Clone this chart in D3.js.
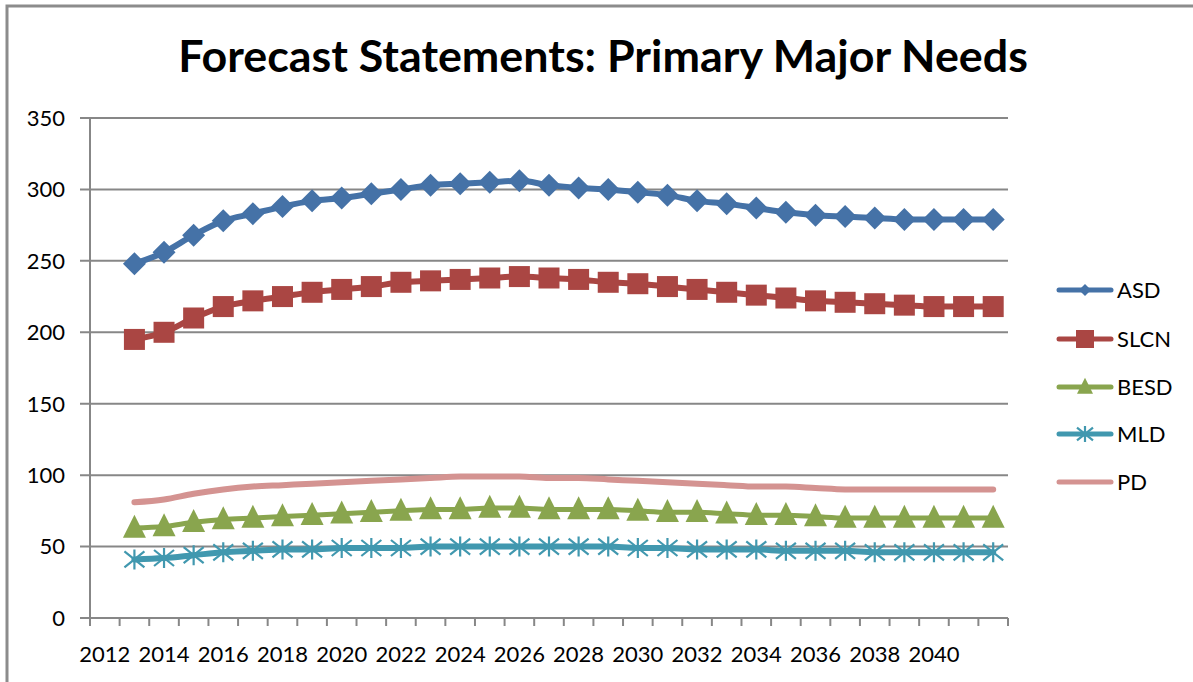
<!DOCTYPE html>
<html>
<head>
<meta charset="utf-8">
<script src="https://cdn.jsdelivr.net/npm/d3@7"></script>
<style>
  body { margin: 0; background: #fff; }
  svg { display: block; font-family: Lato, "Open Sans", sans-serif; }
</style>
</head>
<body>
<svg width="1193" height="682"></svg>
<script>
// Data
const years = d3.range(2012, 2043);          // category axis 2012..2042
const dataYears = d3.range(2013, 2043);      // series start in 2013
const yTicks = [0, 50, 100, 150, 200, 250, 300, 350];
const xLabels = d3.range(2012, 2041, 2);

const asd  = [248, 256, 268, 278, 283, 288, 292, 294, 297, 300, 303, 304, 305, 306, 303, 301, 300, 298, 296, 292, 290, 287, 284, 282, 281, 280, 279, 279, 279, 279];
const slcn = [195, 200, 210, 218, 222, 225, 228, 230, 232, 235, 236, 237, 238, 239, 238, 237, 235, 234, 232, 230, 228, 226, 224, 222, 221, 220, 219, 218, 218, 218];
const besd = [63, 64, 67, 69, 70, 71, 72, 73, 74, 75, 76, 76, 77, 77, 76, 76, 76, 75, 74, 74, 73, 72, 72, 71, 70, 70, 70, 70, 70, 70];
const mld  = [41, 42, 44, 46, 47, 48, 48, 49, 49, 49, 50, 50, 50, 50, 50, 50, 50, 49, 49, 48, 48, 48, 47, 47, 47, 46, 46, 46, 46, 46];
const pd   = [81, 83, 87, 90, 92, 93, 94, 95, 96, 97, 98, 99, 99, 99, 98, 98, 97, 96, 95, 94, 93, 92, 92, 91, 90, 90, 90, 90, 90, 90];

const seriesNames = ["ASD", "SLCN", "BESD", "MLD", "PD"];
const seriesValues = [asd, slcn, besd, mld, pd];
const colors = ["#4572A7", "#AA4643", "#89A54E", "#4198AF", "#D49391"];
const markers = ["diamond", "square", "triangle", "star", "none"];

const svg = d3.select("svg");

// frame
svg.append("rect")
  .attr("x", 7).attr("y", 6)
  .attr("width", 1300).attr("height", 800)
  .attr("fill", "none")
  .attr("stroke", "#8c8c8c")
  .attr("stroke-width", 3);

// title, fitted to the reference width
const title = svg.append("text")
  .attr("x", 603).attr("y", 72)
  .attr("text-anchor", "middle")
  .style("font-weight", "bold")
  .style("font-size", "40px")
  .text("Forecast Statements: Primary Major Needs");
const tw = title.node().getComputedTextLength();
title.style("font-size", (40 * 850 / tw) + "px");

// scales
const x = d3.scaleBand().domain(years).range([90, 1008]);
const y = d3.scaleLinear().domain([0, 350]).range([618, 118]);
const cx = d => x(d) + x.bandwidth() / 2;

// gridlines
svg.append("g")
  .selectAll("line")
  .data(yTicks)
  .join("line")
  .attr("x1", 80).attr("x2", 1008)
  .attr("y1", d => y(d)).attr("y2", d => y(d))
  .attr("stroke", "#878787")
  .attr("stroke-width", 2);

// y axis line
svg.append("line")
  .attr("x1", 90).attr("x2", 90)
  .attr("y1", y(350)).attr("y2", y(0))
  .attr("stroke", "#878787").attr("stroke-width", 2);

// x tick marks between categories
svg.append("g")
  .selectAll("line")
  .data(years.concat([2043]))
  .join("line")
  .attr("x1", d => d === 2043 ? 1008 : x(d))
  .attr("x2", d => d === 2043 ? 1008 : x(d))
  .attr("y1", y(0)).attr("y2", y(0) + 8)
  .attr("stroke", "#878787").attr("stroke-width", 2);

// y labels
svg.append("g")
  .selectAll("text")
  .data(yTicks)
  .join("text")
  .attr("x", 65)
  .attr("y", d => y(d))
  .attr("dy", "0.36em")
  .attr("text-anchor", "end")
  .style("font-size", "22px")
  .attr("fill", "#000")
  .text(d => d);

// x labels
svg.append("g")
  .selectAll("text")
  .data(xLabels)
  .join("text")
  .attr("x", d => cx(d))
  .attr("y", 662)
  .attr("text-anchor", "middle")
  .style("font-size", "22px")
  .attr("fill", "#000")
  .text(d => d);

// marker drawing
function drawMarker(g, type, color, px, py, s) {
  if (type === "diamond") {
    g.append("path")
      .attr("d", `M${px},${py - s}L${px + s},${py}L${px},${py + s}L${px - s},${py}Z`)
      .attr("fill", color);
  } else if (type === "square") {
    g.append("rect")
      .attr("x", px - s).attr("y", py - s)
      .attr("width", 2 * s).attr("height", 2 * s)
      .attr("fill", color);
  } else if (type === "triangle") {
    g.append("path")
      .attr("d", `M${px},${py - s * 1.15}L${px + s},${py + s * 0.85}L${px - s},${py + s * 0.85}Z`)
      .attr("fill", color);
  } else if (type === "star") {
    const r = s;
    g.append("path")
      .attr("d", `M${px},${py - r}L${px},${py + r}M${px - r},${py - r * 0.8}L${px + r},${py + r * 0.8}M${px - r},${py + r * 0.8}L${px + r},${py - r * 0.8}`)
      .attr("stroke", color)
      .attr("stroke-width", 2.2)
      .attr("fill", "none");
  }
}

const line = d3.line()
  .x((d, i) => cx(dataYears[i]))
  .y(d => y(d))
  .curve(d3.curveMonotoneX);

const markerSize = [11.5, 10.5, 11.5, 10, 0];
const lineWidth = [6, 6, 5, 6, 6];

seriesValues.forEach((vals, k) => {
  const g = svg.append("g");
  g.append("path")
    .datum(vals)
    .attr("d", line)
    .attr("fill", "none")
    .attr("stroke", colors[k])
    .attr("stroke-width", lineWidth[k])
    .attr("stroke-linejoin", "round")
    .attr("stroke-linecap", "round");
  if (markers[k] !== "none") {
    vals.forEach((v, i) => drawMarker(g, markers[k], colors[k], cx(dataYears[i]), y(v), markerSize[k]));
  }
});

// legend
const legendY = [290, 339, 387, 434, 482];
const legendMarker = [6, 9, 8, 8, 0];
seriesNames.forEach((name, k) => {
  const g = svg.append("g");
  g.append("line")
    .attr("x1", 1059).attr("x2", 1111)
    .attr("y1", legendY[k]).attr("y2", legendY[k])
    .attr("stroke", colors[k])
    .attr("stroke-width", 5)
    .attr("stroke-linecap", "round");
  if (markers[k] !== "none") drawMarker(g, markers[k], colors[k], 1085, legendY[k], legendMarker[k]);
  g.append("text")
    .attr("x", 1117).attr("y", legendY[k])
    .attr("dy", "0.36em")
    .style("font-size", "22px")
    .attr("fill", "#000")
    .text(name);
});
</script>
</body>
</html>
